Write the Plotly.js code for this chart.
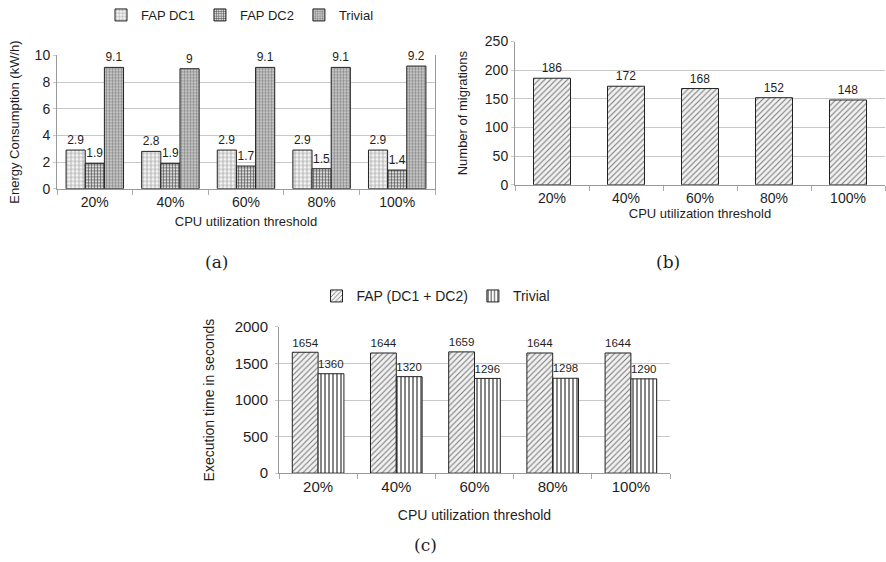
<!DOCTYPE html>
<html>
<head>
<meta charset="utf-8">
<script src="https://cdn.plot.ly/plotly-3.0.1.min.js"></script>
<style>html,body{margin:0;padding:0;background:#fff;}#chart{width:886px;height:562px;}</style>
</head>
<body>
<div id="chart"></div>
<script>
// ---- data ----
const categories = ['20%', '40%', '60%', '80%', '100%'];
const energyFapDC1 = [2.9, 2.8, 2.9, 2.9, 2.9];
const energyFapDC2 = [1.9, 1.9, 1.7, 1.5, 1.4];
const energyTrivial = [9.1, 9.0, 9.1, 9.1, 9.2];
const migrations = [186, 172, 168, 152, 148];
const timeFap = [1654, 1644, 1659, 1644, 1644];
const timeTrivial = [1360, 1320, 1296, 1298, 1290];

const FONT = 'Liberation Sans, Arial, Helvetica, sans-serif';
const TXT = '#1e1e1e';
const line = {color: '#222', width: 1};
const valFont = {family: FONT, size: 12, color: TXT};

const hatchFap = {shape: '/', fgcolor: '#7a7a7a', bgcolor: '#f2f2f2', size: 4, solidity: 0.28};

const traces = [
  {type: 'bar', name: 'FAP DC1', x: categories, y: energyFapDC1, xaxis: 'x', yaxis: 'y', legend: 'legend',
   text: energyFapDC1.map(String), textposition: 'outside', textfont: valFont, cliponaxis: false,
   marker: {color: '#ffffff', line: line, pattern: {shape: '+', fgcolor: '#9a9a9a', bgcolor: '#f4f4f4', size: 4, solidity: 0.3}}},
  {type: 'bar', name: 'FAP DC2', x: categories, y: energyFapDC2, xaxis: 'x', yaxis: 'y', legend: 'legend',
   text: energyFapDC2.map(String), textposition: 'outside', textfont: valFont, cliponaxis: false,
   marker: {color: '#ffffff', line: line, pattern: {shape: '+', fgcolor: '#444', bgcolor: '#d8d8d8', size: 3, solidity: 0.35}}},
  {type: 'bar', name: 'Trivial', x: categories, y: energyTrivial, xaxis: 'x', yaxis: 'y', legend: 'legend',
   text: energyTrivial.map(String), textposition: 'outside', textfont: valFont, cliponaxis: false,
   marker: {color: '#cccccc', line: line, pattern: {shape: '.', fgcolor: '#8a8a8a', bgcolor: '#d6d6d6', size: 3, solidity: 0.5}}},
  {type: 'bar', name: 'Migrations', x: categories, y: migrations, xaxis: 'x2', yaxis: 'y2', showlegend: false,
   width: 0.5, offset: -0.25,
   text: migrations.map(String), textposition: 'outside', textfont: valFont, cliponaxis: false,
   marker: {color: '#f2f2f2', line: line, pattern: hatchFap}},
  {type: 'bar', name: 'FAP (DC1 + DC2)', x: categories, y: timeFap, xaxis: 'x3', yaxis: 'y3', legend: 'legend2',
   width: 0.33, offset: -0.33,
   text: timeFap.map(String), textposition: 'outside', textfont: {family: FONT, size: 13, color: TXT}, cliponaxis: false,
   marker: {color: '#f2f2f2', line: line, pattern: hatchFap}},
  {type: 'bar', name: 'Trivial', x: categories, y: timeTrivial, xaxis: 'x3', yaxis: 'y3', legend: 'legend2',
   width: 0.33, offset: 0,
   text: timeTrivial.map(String), textposition: 'outside', textfont: {family: FONT, size: 12, color: TXT}, cliponaxis: false,
   marker: {color: '#ffffff', line: line, pattern: {shape: '|', fgcolor: '#333', bgcolor: '#ffffff', size: 4, solidity: 0.3}}}
];

function xax(domain, fs) {
  return {domain: domain, type: 'category', showgrid: false, showline: true, linecolor: '#999', linewidth: 1,
    ticks: 'outside', tickson: 'boundaries', ticklen: 5, tickcolor: '#aaa', tickfont: {family: FONT, size: fs, color: TXT},
    fixedrange: true, zeroline: false};
}
function yax(domain, range, dtick, mirror, fs) {
  return {domain: domain, range: range, dtick: dtick, showgrid: true, gridcolor: '#c8c8c8', gridwidth: 1,
    showline: true, linecolor: '#999', linewidth: 1, mirror: mirror, ticks: 'outside', ticklen: 3, tickcolor: '#c8c8c8',
    tickfont: {family: FONT, size: fs, color: TXT}, zeroline: false, fixedrange: true};
}
const W = 886, H = 562;
const px = v => v / W, py = v => 1 - v / H;

const xa = xax([px(57), px(435)], 14);
xa.title = {text: 'CPU utilization threshold', font: {family: FONT, size: 13, color: TXT}, standoff: 8};
const ya = yax([py(184), py(49)], [0, 10], 2, true, 14);
ya.title = {text: 'Energy Consumption (kW/h)', font: {family: FONT, size: 13, color: TXT}, standoff: 12};

const xb = xax([px(515), px(885)], 14);
xb.anchor = 'y2';
xb.title = {text: 'CPU utilization threshold', font: {family: FONT, size: 13, color: TXT}, standoff: 4};
const yb = yax([py(180), py(35)], [0, 250], 50, false, 14);
yb.anchor = 'x2';
yb.title = {text: 'Number of migrations', font: {family: FONT, size: 13, color: TXT}, standoff: 14};

const xc = xax([px(279), px(670)], 15);
xc.anchor = 'y3';
xc.title = {text: 'CPU utilization threshold', font: {family: FONT, size: 14, color: TXT}, standoff: 16};
const yc = yax([py(472), py(324)], [0, 2000], 500, false, 15);
yc.anchor = 'x3';
yc.ticklabelstandoff = 4;
yc.title = {text: 'Execution time in seconds', font: {family: FONT, size: 14, color: TXT}, standoff: 16};

const serif = {family: 'DejaVu Serif, Liberation Serif, serif', size: 17, color: TXT};
const layout = {
  width: W, height: H, margin: {l: 0, r: 0, t: 0, b: 0},
  paper_bgcolor: '#ffffff', plot_bgcolor: '#ffffff',
  font: {family: FONT, size: 12, color: TXT},
  barmode: 'group', bargap: 0.24, bargroupgap: 0,
  xaxis: xa, yaxis: ya, xaxis2: xb, yaxis2: yb, xaxis3: xc, yaxis3: yc,
  legend: {orientation: 'h', x: px(240), xanchor: 'center', y: py(8), yanchor: 'middle',
    font: {family: FONT, size: 13, color: TXT}, itemwidth: 30, bgcolor: 'rgba(0,0,0,0)'},
  legend2: {orientation: 'h', x: px(436), xanchor: 'center', y: py(293), yanchor: 'middle',
    font: {family: FONT, size: 14, color: TXT}, itemwidth: 30, bgcolor: 'rgba(0,0,0,0)'},
  annotations: [
    {text: '(a)', x: px(216), y: py(258), xref: 'paper', yref: 'paper', xanchor: 'center', yanchor: 'middle', showarrow: false, font: serif},
    {text: '(b)', x: px(668), y: py(258), xref: 'paper', yref: 'paper', xanchor: 'center', yanchor: 'middle', showarrow: false, font: serif},
    {text: '(c)', x: px(425), y: py(545), xref: 'paper', yref: 'paper', xanchor: 'center', yanchor: 'middle', showarrow: false, font: serif}
  ]
};

Plotly.newPlot('chart', traces, layout, {staticPlot: true, displayModeBar: false});
</script>
</body>
</html>
